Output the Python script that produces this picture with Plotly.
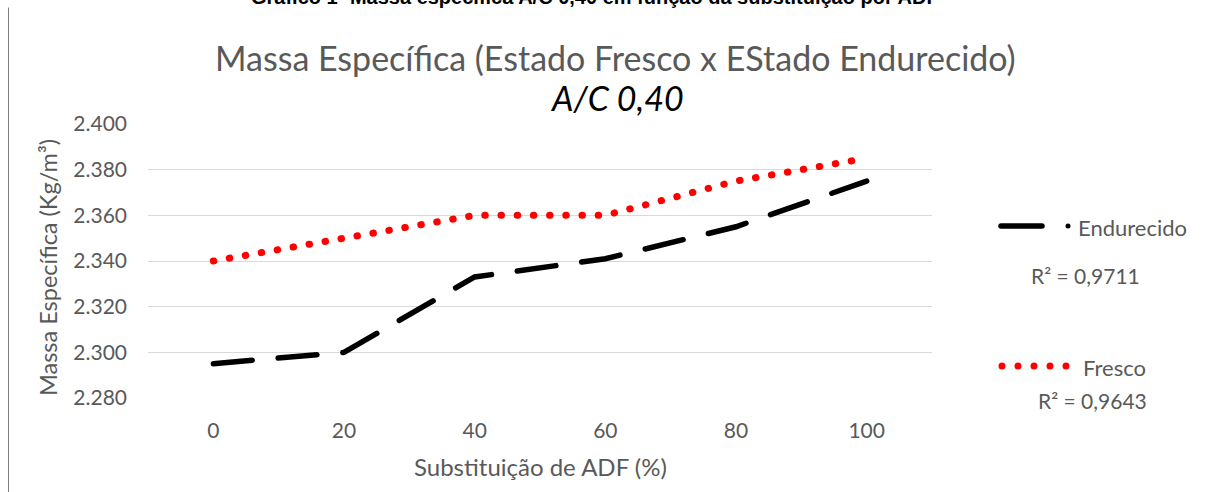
import plotly.graph_objects as go

# ---- data ----
substituicao = [0, 20, 40, 60, 80, 100]
endurecido = [2.295, 2.300, 2.333, 2.341, 2.355, 2.375]
fresco = [2.340, 2.350, 2.360, 2.360, 2.375, 2.385]
y_ticks = [2.28, 2.30, 2.32, 2.34, 2.36, 2.38, 2.40]
y_tick_labels = ["2.280", "2.300", "2.320", "2.340", "2.360", "2.380", "2.400"]
x_ticks = [0, 20, 40, 60, 80, 100]
r2_endurecido = "R² = 0,9711"
r2_fresco = "R² = 0,9643"

W, H = 1208, 492
L, R, T, B = 148, 932, 124, 398  # plot area in pixels

def px(x):
    return (x - L) / (R - L)

def py(y):
    return (B - y) / (B - T)

GRAY = "#595959"
FONT = "Lato"

fig = go.Figure()
fig.add_trace(go.Scatter(x=substituicao, y=endurecido, mode="lines", name="Endurecido",
                         line=dict(color="black", width=5.5, dash="39px,26px")))
fig.add_trace(go.Scatter(x=substituicao, y=fresco, mode="lines", name="Fresco",
                         line=dict(color="#ff0000", width=7, dash="0.5px,15.7px")))

annotations = [
    dict(text="<b>Gráfico 1- Massa específica A/C 0,40 em função da substituição por ADF</b>",
         x=px(595), y=py(-3), xref="paper", yref="paper", showarrow=False,
         xanchor="center", yanchor="middle",
         font=dict(family="Liberation Sans", size=20, color="black")),
    dict(text="Massa Específica (Estado Fresco x EStado Endurecido)",
         x=px(615), y=py(58), xref="paper", yref="paper", showarrow=False,
         xanchor="center", yanchor="middle", font=dict(family=FONT, size=34, color=GRAY)),
    dict(text="<i>A/C 0,40</i>",
         x=px(617), y=py(97), xref="paper", yref="paper", showarrow=False,
         xanchor="center", yanchor="middle", font=dict(family=FONT, size=34, color="black")),
    dict(text="Massa Específica (Kg/m³)", textangle=-90,
         x=px(48), y=py(268), xref="paper", yref="paper", showarrow=False,
         xanchor="center", yanchor="middle", font=dict(family=FONT, size=23.5, color=GRAY)),
    dict(text="Substituição de ADF (%)",
         x=px(540), y=py(466), xref="paper", yref="paper", showarrow=False,
         xanchor="center", yanchor="middle", font=dict(family=FONT, size=24, color=GRAY)),
    dict(text="Endurecido",
         x=px(1076), y=py(227), xref="paper", yref="paper", showarrow=False,
         xanchor="left", yanchor="middle", font=dict(family=FONT, size=22, color=GRAY)),
    dict(text=r2_endurecido,
         x=px(1085), y=py(275), xref="paper", yref="paper", showarrow=False,
         xanchor="center", yanchor="middle", font=dict(family=FONT, size=21, color=GRAY)),
    dict(text="Fresco",
         x=px(1081), y=py(367), xref="paper", yref="paper", showarrow=False,
         xanchor="left", yanchor="middle", font=dict(family=FONT, size=22, color=GRAY)),
    dict(text=r2_fresco,
         x=px(1092), y=py(400), xref="paper", yref="paper", showarrow=False,
         xanchor="center", yanchor="middle", font=dict(family=FONT, size=21, color=GRAY)),
]

shapes = [
    # left frame line
    dict(type="line", xref="paper", yref="paper", x0=px(8.5), x1=px(8.5), y0=py(8), y1=py(500),
         line=dict(color="#7f7f7f", width=1)),
    # legend: Endurecido dash + dot
    dict(type="line", xref="paper", yref="paper", x0=px(1001), x1=px(1042), y0=py(226), y1=py(226),
         line=dict(color="black", width=5.5)),
    dict(type="circle", xref="paper", yref="paper", x0=px(1065.5), x1=px(1070.5), y0=py(223.5), y1=py(228.5),
         fillcolor="black", line=dict(width=0)),
]
for cx in [1002, 1018, 1034, 1050, 1066]:
    shapes.append(dict(type="circle", xref="paper", yref="paper",
                       x0=px(cx - 3.5), x1=px(cx + 3.5), y0=py(366 - 3.5), y1=py(366 + 3.5),
                       fillcolor="#ff0000", line=dict(width=0)))

fig.update_layout(
    width=W, height=H,
    margin=dict(l=L, r=W - R, t=T, b=H - B),
    paper_bgcolor="white", plot_bgcolor="white",
    showlegend=False,
    annotations=annotations,
    shapes=shapes,
    font=dict(family=FONT, color=GRAY, size=21),
)
fig.update_xaxes(range=[-10, 110], tickvals=x_ticks, showgrid=False, zeroline=False,
                 showline=False, ticks="", ticklabelstandoff=18,
                 tickfont=dict(family=FONT, size=21, color=GRAY))
fig.update_yaxes(range=[2.28, 2.40], tickvals=y_ticks, ticktext=y_tick_labels,
                 showgrid=True, gridcolor="#d9d9d9", gridwidth=1.3, zeroline=False,
                 showline=False, ticks="", ticklabelstandoff=20,
                 tickfont=dict(family=FONT, size=21, color=GRAY))

post = """
var gd = document.getElementById('{plot_id}');
gd.querySelectorAll('.scatterlayer .js-line, .shapelayer path').forEach(function(p){
  p.style.strokeLinecap = 'round';
});
"""
fig.write_html("out.html", post_script=post)
